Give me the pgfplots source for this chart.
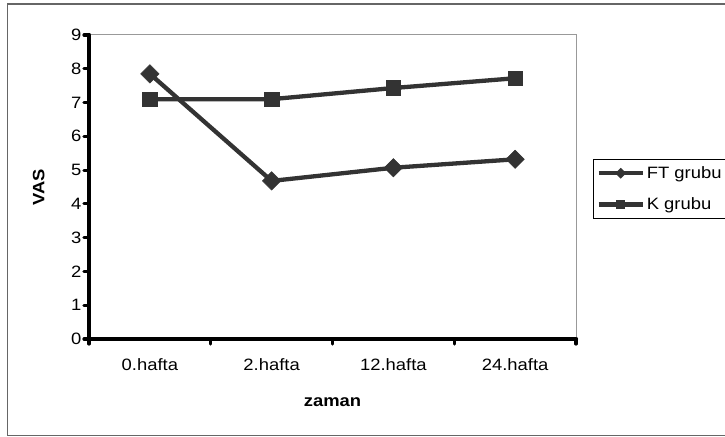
\documentclass[border=0pt]{standalone}
\usepackage{fontspec}
\setmainfont[FakeStretch=1.12]{Liberation Sans}
\usepackage{pgfplots}
\pgfplotsset{compat=1.18}
\definecolor{ser}{HTML}{333333}
\newcommand{\myfont}{\fontsize{16.5}{19}\selectfont}
\begin{document}
\begin{tikzpicture}[x=1bp,y=1bp]
\useasboundingbox (0,0) rectangle (725,437);
\draw[black!60, line width=1.4bp] (7.5,1.5) rectangle (745,433);
\begin{axis}[
 at={(89bp,98bp)}, anchor=south west,
 width=487bp, height=304bp, scale only axis,
 xmin=-0.5, xmax=3.5, ymin=0, ymax=9,
 ytick={0,...,9},
 xtick={-0.5,0.5,1.5,2.5,3.5}, xticklabels={},
 extra x ticks={0,1,2,3},
 extra x tick labels={0.hafta,2.hafta,12.hafta,24.hafta},
 extra x tick style={tick style={draw=none}, tick label style={yshift=-11bp}},
 tick align=outside, tick pos=left,
 major tick length=5bp,
 tick style={black, line width=3.2bp, line cap=round},
 axis line style={black!40, line width=1bp},
 /pgf/number format/assume math mode=true,
 tick label style={font=\myfont},
 yticklabel style={xshift=1bp},
 ylabel={VAS}, xlabel={zaman},
 label style={font=\myfont\bfseries},
 ylabel style={at={(axis description cs:-0.103,0.5)}, anchor=center},
 xlabel style={at={(axis description cs:0.5,-0.207)}, anchor=center},
 clip=false,
 legend style={at={(1.035,0.592)}, anchor=north west, draw=black, line width=1bp,
   font=\myfont, row sep=14bp, inner xsep=3bp, inner ysep=5bp},
 legend cell align=left,
 legend image code/.code={\draw[#1, every mark/.append style={scale=0.55}, mark repeat=2, mark phase=2] plot coordinates {(0bp,0bp) (22bp,0bp) (44bp,0bp)};},
]
\draw[black, line width=4.2bp, line cap=round] (rel axis cs:0,1) -- (rel axis cs:0,0) -- (rel axis cs:1,0);
\addplot[ser, line width=4.3bp, mark=square*, mark size=6.5bp, mark options={rotate=45, line width=0.5bp, solid}]
 coordinates {(0,7.85) (1,4.68) (2,5.07) (3,5.32)};
\addlegendentry{FT grubu}
\addplot[ser, line width=4.3bp, mark=square*, mark size=7.3bp, mark options={line width=0.5bp, solid}]
 coordinates {(0,7.1) (1,7.1) (2,7.43) (3,7.72)};
\addlegendentry{K grubu}
\end{axis}
\end{tikzpicture}
\end{document}
